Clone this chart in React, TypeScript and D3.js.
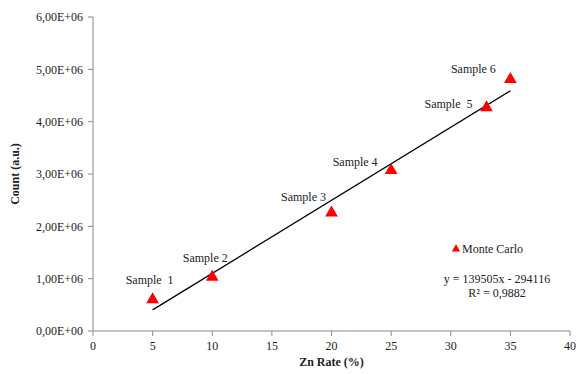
import React from 'react'
import * as d3 from 'd3'

// Monte Carlo samples
const sampleNames = ['Sample  1', 'Sample 2', 'Sample 3', 'Sample 4', 'Sample  5', 'Sample 6']
const znRate = [5, 10, 20, 25, 33, 35]
const counts = [600000, 1030000, 2260000, 3070000, 4270000, 4810000]

// linear fit shown on the chart
const slope = 139505
const intercept = -294116
const equationText = 'y = 139505x - 294116'
const r2Text = 'R² = 0,9882'

const xTicks = [0, 5, 10, 15, 20, 25, 30, 35, 40]
const yTicks = [0, 1e6, 2e6, 3e6, 4e6, 5e6, 6e6]

// label offsets from each triangle (px)
const labelOffsets: [number, number][] = [
  [-3, -20],
  [-7, -19],
  [-28, -16],
  [-36, -9],
  [-38, -4],
  [-37, -10],
]

const W = 576
const H = 374
const margin = { top: 17, right: 6, bottom: 43, left: 93 }
const font = '"Liberation Serif", "Times New Roman", serif'
const axisColor = '#8a8a8a'

// 6,00E+06 style
const sci = (v: number) => {
  if (v === 0) return '0,00E+00'
  const e = Math.floor(Math.log10(Math.abs(v)))
  const m = v / Math.pow(10, e)
  return `${m.toFixed(2).replace('.', ',')}E+${String(e).padStart(2, '0')}`
}

const App: React.FC = () => {
  const x = d3.scaleLinear().domain([0, 40]).range([margin.left, W - margin.right])
  const y = d3.scaleLinear().domain([0, 6e6]).range([H - margin.bottom, margin.top])

  const tri = d3.symbol().type(d3.symbolTriangle).size(70)
  const triSmall = d3.symbol().type(d3.symbolTriangle).size(30)

  const fitLine = d3.line<number>()
    .x(d => x(d))
    .y(d => y(slope * d + intercept))

  const x0 = x(0)
  const y0 = y(0)

  return (
    <svg width={W} height={H} style={{ position: 'absolute', left: 0, top: 0, background: '#fff' }}
      fontFamily={font}>
      {/* axes */}
      <line x1={x0} x2={x0} y1={y(6e6)} y2={y0} stroke={axisColor} strokeWidth={1} />
      <line x1={x0} x2={x(40)} y1={y0} y2={y0} stroke={axisColor} strokeWidth={1} />
      {yTicks.map(t => (
        <g key={'y' + t}>
          <line x1={x0 - 5} x2={x0} y1={y(t)} y2={y(t)} stroke={axisColor} />
          <text x={x0 - 10} y={y(t)} dy="0.35em" textAnchor="end" fontSize={12} fill="#222">{sci(t)}</text>
        </g>
      ))}
      {xTicks.map(t => (
        <g key={'x' + t}>
          <line x1={x(t)} x2={x(t)} y1={y0} y2={y0 + 5} stroke={axisColor} />
          <text x={x(t)} y={y0 + 19} textAnchor="middle" fontSize={12} fill="#222">{t}</text>
        </g>
      ))}
      <text x={(x0 + x(40)) / 2} y={366} textAnchor="middle" fontSize={12} fontWeight="bold" fill="#222">
        Zn Rate (%)
      </text>
      <text transform={`translate(19,${(y0 + y(6e6)) / 2}) rotate(-90)`} textAnchor="middle" fontSize={12}
        fontWeight="bold" fill="#222">Count (a.u.)</text>

      {/* trend line */}
      <path d={fitLine([5, 35]) || ''} fill="none" stroke="#000" strokeWidth={1.3} />

      {/* points */}
      {znRate.map((z, i) => (
        <g key={i}>
          <path d={tri() || ''} transform={`translate(${x(z)},${y(counts[i])})`} fill="#ff0000" />
          <text x={x(z) + labelOffsets[i][0]} y={y(counts[i]) + labelOffsets[i][1]} dy="0.35em"
            textAnchor="middle" fontSize={12} fill="#222" style={{ whiteSpace: 'pre' }}>{sampleNames[i]}</text>
        </g>
      ))}

      {/* legend */}
      <path d={triSmall() || ''} transform="translate(456,249)" fill="#ff0000" />
      <text x={462} y={249} dy="0.35em" fontSize={12} fill="#222">Monte Carlo</text>
      <text x={497} y={279} dy="0.35em" textAnchor="middle" fontSize={12} fill="#222">{equationText}</text>
      <text x={497} y={293} dy="0.35em" textAnchor="middle" fontSize={12} fill="#222">{r2Text}</text>
    </svg>
  )
}

export default App
